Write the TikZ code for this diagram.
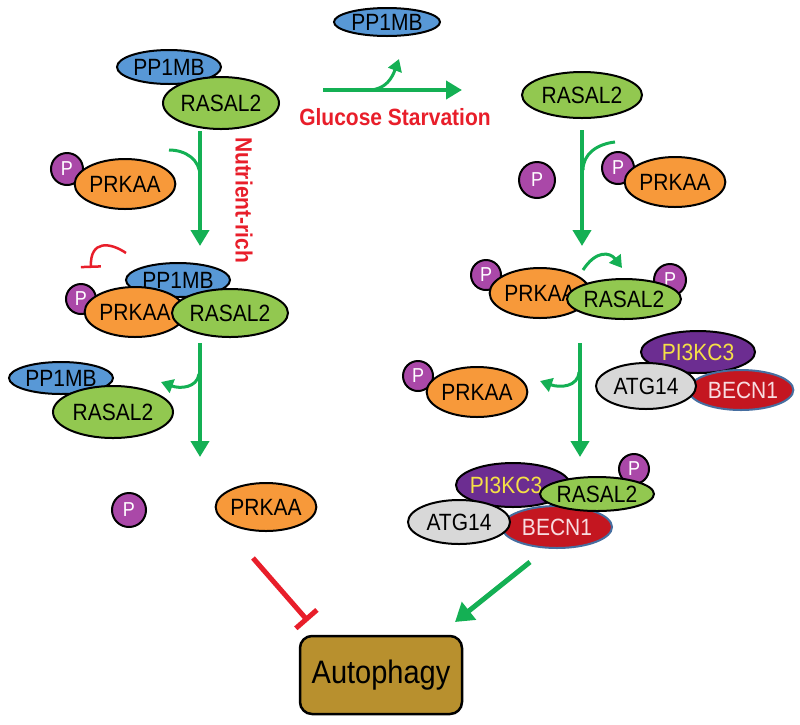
\documentclass[tikz,border=0pt]{standalone}
\usepackage{fontspec}
\setmainfont{Liberation Sans}
\usetikzlibrary{shapes.geometric,arrows.meta}
\definecolor{ppblue}{RGB}{88,152,214}
\definecolor{rasgreen}{RGB}{146,200,80}
\definecolor{prkorange}{RGB}{247,153,58}
\definecolor{phpurple}{RGB}{170,72,168}
\definecolor{arrgreen}{RGB}{20,176,84}
\definecolor{inhred}{RGB}{232,30,42}
\definecolor{pikpurple}{RGB}{108,45,145}
\definecolor{pikyellow}{RGB}{245,224,70}
\definecolor{becred}{RGB}{196,22,32}
\definecolor{becline}{RGB}{70,110,160}
\definecolor{becpink}{RGB}{248,220,224}
\definecolor{atggrey}{RGB}{216,216,216}
\definecolor{autogold}{RGB}{184,144,46}
\newcommand{\tl}[1]{\scalebox{1}[1.12]{#1}}
\tikzset{
  sz/.style 2 args={minimum width=#1pt, minimum height=#2pt},
  prot/.style={ellipse, draw=black, line width=2pt, inner sep=0pt, font=\fontsize{21}{21}\selectfont},
  ppone/.style={prot, fill=ppblue},
  rasal/.style={prot, fill=rasgreen},
  prkaa/.style={prot, fill=prkorange},
  pikc/.style={prot, fill=pikpurple, text=pikyellow},
  becn/.style={prot, fill=becred, draw=becline, text=becpink},
  atg/.style={prot, fill=atggrey},
  phos/.style={circle, draw=black, line width=2pt, fill=phpurple, text=white, inner sep=0pt, font=\fontsize{18}{18}\selectfont},
  flow/.style={draw=arrgreen, line width=4.5pt, -{Triangle[length=16pt,width=18pt]}},
  sidearr/.style={draw=arrgreen, line width=3pt, -{Triangle[length=12pt,width=14pt]}},
  sideline/.style={draw=arrgreen, line width=3pt},
  inhib/.style={draw=inhred, line width=2.5pt, -{Bar[width=20pt,line width=2.5pt]}},
  redlabel/.style={text=inhred, font=\bfseries\fontsize{21}{21}\selectfont},
}
\begin{document}
\begin{tikzpicture}[x=1pt,y=-1pt]
\useasboundingbox (0,0) rectangle (800,724);

% ---------------- left column, top
\node[ppone, sz={104}{34}] (lpp1) at (169,67) {\tl{PP1MB}};
\node[rasal, sz={116}{52}] (lras1) at (221,103) {\tl{RASAL2}};
\coordinate (la1s) at (200,131);
\coordinate (la1e) at (200,246);
\draw[flow] (la1s) -- (la1e);
\coordinate (lb1s) at (169,150);
\coordinate (lb1e) at (200,176);
\draw[sideline] (lb1s) .. controls (186,150) and (200,160) .. (lb1e);
\node[phos, minimum size=32pt] (lp1) at (67,169) {\tl{P}};
\node[prkaa, sz={100}{50}] (lprk1) at (125,184) {\tl{PRKAA}};
\node[redlabel, rotate=-90] (nutr) at (244,200) {\tl{Nutrient-rich}};

% ---------------- left column, second
\node[ppone, sz={104}{34}] (lpp2) at (178,280) {\tl{PP1MB}};
\node[phos, minimum size=30pt] (lp2) at (81,299) {\tl{P}};
\node[prkaa, sz={94}{50}] (lprk2) at (135,312) {\tl{PRKAA}};
\node[rasal, sz={116}{48}] (lras2) at (230,313) {\tl{RASAL2}};
\coordinate (li1s) at (126,253);
\coordinate (li1e) at (91,268);
\draw[inhib] (li1s) .. controls (110,242) and (90,240) .. (li1e);

\coordinate (la2s) at (200,343);
\coordinate (la2e) at (200,457);
\draw[flow] (la2s) -- (la2e);
\coordinate (lb2s) at (199,374);
\coordinate (lb2e) at (161,382);
\draw[sidearr] (lb2s) .. controls (197,388) and (180,389) .. (lb2e);

% ---------------- left column, third
\node[ppone, sz={104}{32}] (lpp3) at (61,378) {\tl{PP1MB}};
\node[rasal, sz={120}{52}] (lras3) at (113,412) {\tl{RASAL2}};

% ---------------- left column, bottom
\node[phos, minimum size=34pt] (lp4) at (129,510) {\tl{P}};
\node[prkaa, sz={98}{48}] (lprk4) at (266,507) {\tl{PRKAA}};

% ---------------- top centre
\node[ppone, sz={106}{28}] (cpp) at (387,22) {\tl{PP1MB}};
\coordinate (ca1s) at (323,90);
\coordinate (ca1e) at (462,90);
\draw[flow, line width=4pt] (ca1s) -- (ca1e);
\coordinate (cb1s) at (370,90);
\coordinate (cb1e) at (399,59);
\draw[sidearr] (cb1s) .. controls (386,89) and (392,78) .. (cb1e);
\node[redlabel] (gluc) at (395,117) {\tl{Glucose Starvation}};

% ---------------- right column, top
\node[rasal, sz={120}{46}] (rras1) at (582,95) {\tl{RASAL2}};
\coordinate (ra1s) at (582,130);
\coordinate (ra1e) at (582,246);
\draw[flow] (ra1s) -- (ra1e);
\coordinate (rb1s) at (615,142);
\coordinate (rb1e) at (583,170);
\draw[sideline] (rb1s) .. controls (597,144) and (583,154) .. (rb1e);
\node[phos, minimum size=36pt] (rp1) at (537,180) {\tl{P}};
\node[phos, minimum size=32pt] (rp2) at (618,168) {\tl{P}};
\node[prkaa, sz={100}{50}] (rprk1) at (675,182) {\tl{PRKAA}};

% ---------------- right column, second
\node[phos, minimum size=30pt] (rp3) at (486,275) {\tl{P}};
\node[prkaa, sz={96}{50}] (rprk2) at (540,293) {\tl{PRKAA}};
\node[phos, minimum size=32pt] (rp4) at (670,280) {\tl{P}};
\node[rasal, sz={98}{40}] (rras2) at (624,299) {\tl{RASAL2}};
\coordinate (rc1s) at (583,270);
\coordinate (rc1e) at (622,268);
\draw[sidearr] (rc1s) .. controls (596,250) and (610,252) .. (rc1e);

% right complex
\node[pikc, sz={114}{42}] (rpik1) at (698,352) {\tl{PI3KC3}};
\node[becn, sz={104}{40}] (rbec1) at (741,390) {\hspace*{4pt}\tl{BECN1}};
\node[atg, sz={100}{46}] (ratg1) at (646,386) {\tl{ATG14}};

\coordinate (ra2s) at (580,343);
\coordinate (ra2e) at (580,457);
\draw[flow] (ra2s) -- (ra2e);
\coordinate (rb2s) at (579,372);
\coordinate (rb2e) at (540,381);
\draw[sidearr] (rb2s) .. controls (578,387) and (560,388) .. (rb2e);
\node[phos, minimum size=30pt] (rp5) at (418,376) {\tl{P}};
\node[prkaa, sz={100}{50}] (rprk3) at (477,392) {\tl{PRKAA}};

% bottom complex
\node[phos, minimum size=30pt] (rp6) at (634,469) {\tl{P}};
\node[pikc, sz={114}{44}] (rpik2) at (513,485) {\hspace*{-14pt}\tl{PI3KC3}};
\node[becn, sz={110}{42}] (rbec2) at (557,527) {\tl{BECN1}};
\node[atg, sz={102}{44}] (ratg2) at (459,522) {\tl{ATG14}};
\node[rasal, sz={100}{34}] (rras3) at (597,494) {\tl{RASAL2}};

% ---------------- autophagy
\node[draw=black, line width=2.5pt, fill=autogold, rounded corners=12pt,
      minimum width=162pt, minimum height=78pt, inner sep=0pt,
      font=\fontsize{29}{29}\selectfont] (auto) at (381,675) {\tl{Autophagy}};
\coordinate (inhs) at (253,558);
\coordinate (inhe) at (308,621);
\draw[draw=inhred, line width=5pt, -{Bar[width=28pt,line width=5pt]}] (inhs) -- (inhe);
\coordinate (acts) at (530,562);
\coordinate (acte) at (455,622);
\draw[draw=arrgreen, line width=5pt, -{Triangle[length=18pt,width=22pt]}] (acts) -- (acte);
\end{tikzpicture}
\end{document}
